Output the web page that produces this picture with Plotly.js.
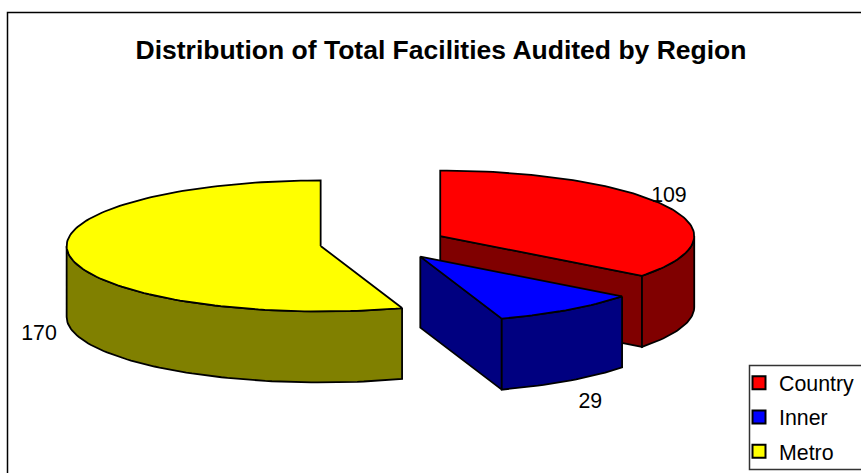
<!DOCTYPE html>
<html>
<head>
<meta charset="utf-8">
<script src="https://cdn.plot.ly/plotly-3.0.1.min.js"></script>
<style>html,body{margin:0;padding:0;background:#fff;overflow:hidden}#chart{width:861px;height:473px}</style>
</head>
<body>
<div id="chart"></div>
<script>
// Data
var categories = ['Country', 'Inner', 'Metro'];
var values = [109, 29, 170];
var chartTitle = 'Distribution of Total Facilities Audited by Region';

// Styles
var topColors = ['#ff0000', '#0000ff', '#ffff00'];
var sideColors = ['#800000', '#000080', '#808000'];
var fontFamily = '"Liberation Sans", Arial, sans-serif';

// Pie projection (oblique 3-D pie, in pixel-like axis units)
var W = 861, H = 473;
var CX = 383.3, CY = 243.3, RX = 254, RY = 65.5, DEPTH = 71, EXPLODE = 0.25;
var labelNudge = [[1, -10], [22, 22], [-31, 7]];
var STEP = Math.PI / 120;

function outline(pts, fill, lw) {
  return {
    type: 'scatter', mode: 'lines', x: pts.map(function (p) { return p[0]; }), y: pts.map(function (p) { return p[1]; }),
    fill: 'toself', fillcolor: fill, line: { color: '#000', width: lw || 1.8, shape: 'linear' },
    hoverinfo: 'skip', showlegend: false
  };
}
function arc(c, a0, a1, dy) {
  var pts = [], n = Math.max(1, Math.ceil((a1 - a0) / STEP));
  for (var i = 0; i <= n; i++) {
    var a = a0 + (a1 - a0) * i / n;
    pts.push([c[0] + RX * Math.sin(a), c[1] - RY * Math.cos(a) + (dy || 0)]);
  }
  return pts;
}
function radialFace(c, a) {
  var e = [c[0] + RX * Math.sin(a), c[1] - RY * Math.cos(a)];
  return [c, e, [e[0], e[1] + DEPTH], [c[0], c[1] + DEPTH], c];
}

var total = values.reduce(function (s, v) { return s + v; }, 0);
var slices = [], start = 0;
values.forEach(function (v, i) {
  var a0 = start, a1 = start + v / total * 2 * Math.PI, mid = (a0 + a1) / 2;
  slices.push({ i: i, a0: a0, a1: a1, mid: mid,
    c: [CX + EXPLODE * RX * Math.sin(mid), CY - EXPLODE * RY * Math.cos(mid)] });
  start = a1;
});

var traces = [];
slices.slice().sort(function (p, q) { return p.c[1] - q.c[1]; }).forEach(function (s) {
  var side = sideColors[s.i];
  if (Math.sin(s.a0) < -1e-6) traces.push(outline(radialFace(s.c, s.a0), side));
  if (Math.sin(s.a1) > 1e-6) traces.push(outline(radialFace(s.c, s.a1), side));
  var w0 = Math.max(s.a0, Math.PI / 2), w1 = Math.min(s.a1, 3 * Math.PI / 2);
  if (w1 > w0) {
    var wall = arc(s.c, w0, w1, 0).concat(arc(s.c, w0, w1, DEPTH).reverse());
    wall.push(wall[0]);
    traces.push(outline(wall, side));
  }
  var top = [s.c].concat(arc(s.c, s.a0, s.a1, 0));
  top.push(s.c);
  traces.push(outline(top, topColors[s.i]));
});

// Data labels, placed from each slice's mid angle
traces.push({
  type: 'scatter', mode: 'text', hoverinfo: 'skip', showlegend: false, cliponaxis: false,
  x: slices.map(function (s) { return s.c[0] + RX * Math.sin(s.mid) + labelNudge[s.i][0]; }),
  y: slices.map(function (s) {
    var front = Math.cos(s.mid) < 0 ? DEPTH : 0;
    return s.c[1] - RY * Math.cos(s.mid) + front + labelNudge[s.i][1];
  }),
  text: values.map(String), textposition: 'middle center',
  textfont: { family: fontFamily, size: 21.33, color: '#000' }
});

// Legend entries
categories.forEach(function (name, i) {
  traces.push({
    type: 'scatter', mode: 'markers', x: [null], y: [null], name: name, legendgroup: name, showlegend: true,
    marker: { symbol: 'square', size: 13, color: topColors[i], line: { color: '#000', width: 2 } }
  });
});

var layout = {
  width: W, height: H, margin: { l: 0, r: 0, t: 0, b: 0, pad: 0, autoexpand: false },
  paper_bgcolor: '#fff', plot_bgcolor: '#fff',
  xaxis: { range: [0, W], visible: false, fixedrange: true },
  yaxis: { range: [H, 0], visible: false, fixedrange: true },
  title: { text: '<b>' + chartTitle + '</b>', x: 441 / W, xanchor: 'center', y: 1 - 50 / H, yanchor: 'middle',
    font: { family: fontFamily, size: 26.5, color: '#000' } },
  showlegend: true,
  legend: { x: 739 / W, xanchor: 'left', y: 1 - 362.5 / H, yanchor: 'top', bgcolor: 'rgba(0,0,0,0)', borderwidth: 0,
    font: { family: fontFamily, size: 21.33, color: '#000' }, tracegroupgap: 3.5, itemclick: false, itemdoubleclick: false },
  shapes: [
    { type: 'rect', xref: 'x', yref: 'y', x0: 7.5, y0: 12.5, x1: W + 10, y1: H + 10, line: { color: '#000', width: 1.5 }, layer: 'below' },
    { type: 'rect', xref: 'x', yref: 'y', x0: 749.5, y0: 365.5, x1: W + 10, y1: 469.5, line: { color: '#333', width: 1.5 }, fillcolor: '#fff', layer: 'below' }
  ]
};
Plotly.newPlot('chart', traces, layout, { displayModeBar: false });
</script>
</body>
</html>
